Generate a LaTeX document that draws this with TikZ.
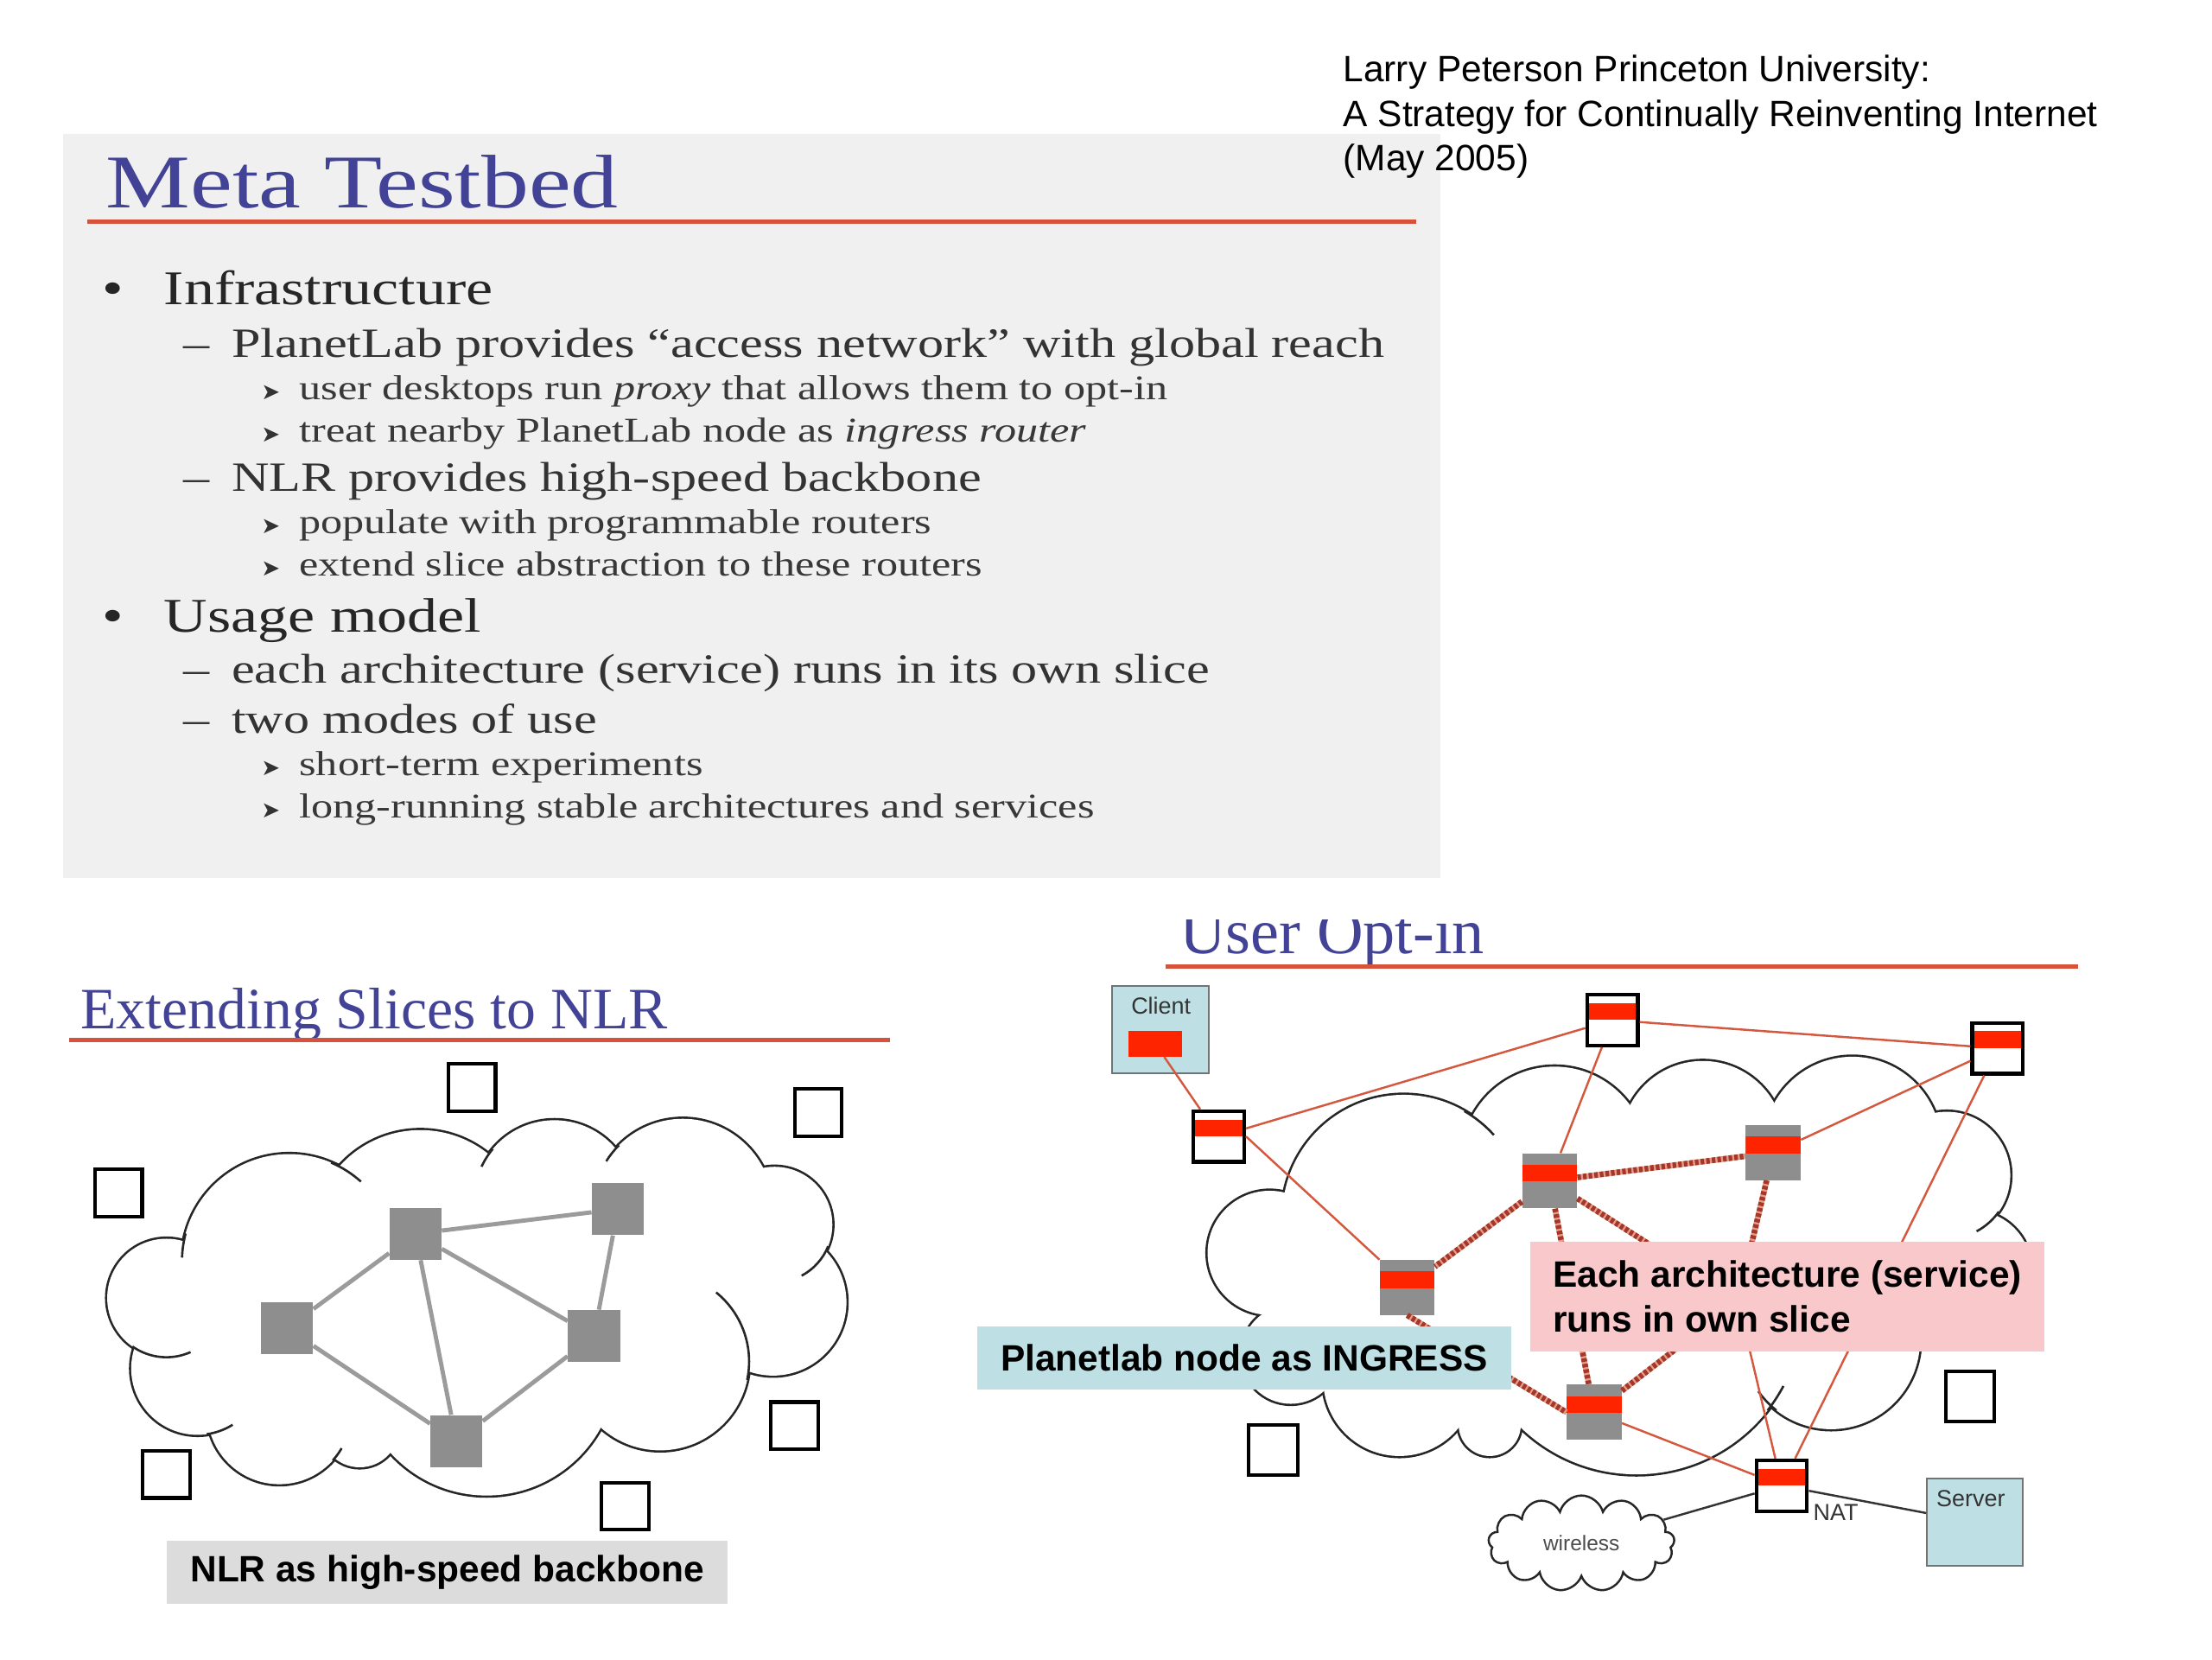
\documentclass[tikz,border=0pt]{standalone}
\usepackage{fontspec}
\setmainfont{Liberation Serif}
\setsansfont{Liberation Sans}
\newfontfamily\slidefont[FakeStretch=1.25]{Liberation Serif}
\newfontfamily\symbfont{DejaVu Sans}
\usetikzlibrary{shapes.symbols}

\definecolor{titleblue}{RGB}{66,66,150}
\definecolor{rulered}{RGB}{214,82,58}
\definecolor{panelgray}{RGB}{240,240,240}
\definecolor{boxgray}{RGB}{142,142,142}
\definecolor{edgegray}{RGB}{155,155,155}
\definecolor{bandred}{RGB}{255,36,0}
\definecolor{linkred}{RGB}{212,88,62}
\definecolor{slicered}{RGB}{165,55,40}
\definecolor{labelcyan}{RGB}{190,224,228}
\definecolor{labelpink}{RGB}{249,200,202}
\definecolor{labelgray}{RGB}{220,220,220}

\newcommand\nlrcloud{118/920/42, 140/970/47, 198/1001/51, 255/1012/28, 345/968/92, 468/965/63, 548/923/52, 549/868/41, 484/857/64, 393/851/57, 298/878/77, 205/894/76}
\newcommand\nlrstubs{468/965/63/-51/12, 549/868/41/22/62, 118/920/42/66/125, 140/970/47/58/82, 205/894/76/182/195, 205/894/76/293/312, 393/851/57/205/220, 484/857/64/212/225, 198/1001/51/30/42}
\newcommand\optcloud{900/888/44, 995/862/86, 1102/822/66, 1207/810/58, 1313/812/63, 1380/833/45, 1398/900/42, 1298/950/63, 1160/927/118, 1056/1010/22, 992/978/54, 915/960/35}
\newcommand\optstubs{995/862/86/300/318, 1380/833/45/35/62, 1298/950/63/128/145, 1160/927/118/28/38}

\begin{document}
\begin{tikzpicture}[x=1pt, y=-1pt,
    every node/.style={inner sep=0pt},
    slidetitle/.style={font=\slidefont\fontsize{53.8}{60}\selectfont, text=titleblue, anchor=base west},
    lvlone/.style={font=\slidefont\fontsize{34.3}{40}\selectfont, text=black!85, anchor=base west},
    lvltwo/.style={font=\slidefont\fontsize{29.5}{34}\selectfont, text=black!80, anchor=base west},
    lvlthree/.style={font=\slidefont\fontsize{24.6}{29}\selectfont, text=black!78, anchor=base west},
    arrowmark/.style={font=\symbfont\fontsize{16}{18}\selectfont, text=black!80, anchor=base west},
    subtitle/.style={font=\fontsize{41.5}{48}\selectfont, text=titleblue, anchor=base west},
    titlerule/.style={draw=rulered, line width=3},
    credit/.style={font=\sffamily\fontsize{26}{31}\selectfont, anchor=base west},
    cloudline/.style={draw=black!85, line width=3.2},
    cloudstub/.style={draw=black!85, line width=1.6},
    emptybox/.style={draw=black, line width=2.5, fill=white, minimum width=33.5, minimum height=33.5},
    nlrnode/.style={fill=boxgray, minimum width=37, minimum height=37},
    backbone/.style={draw=edgegray, line width=3},
    redband/.style={path picture={\fill[bandred] ([yshift=-#1pt]path picture bounding box.north west) rectangle ([yshift=-#1pt-12pt]path picture bounding box.north east);}},
    router/.style={draw=black, line width=2.5, fill=white, minimum width=36, minimum height=36, redband=6},
    slicenode/.style={fill=boxgray, minimum width=39, minimum height=39, redband=8},
    hostbox/.style={draw=black!55, line width=1.2, fill=labelcyan},
    smalltext/.style={font=\sffamily\fontsize{16.5}{19}\selectfont, text=black!80},
    physlink/.style={draw=linkred, line width=1.5},
    slicelink/.style={draw=slicered, line width=4, dash pattern=on 2.5pt off 1.5pt, preaction={draw=linkred!60, line width=4}},
    hostlink/.style={draw=black!80, line width=1.5},
    notelabel/.style={font=\sffamily\bfseries\fontsize{26}{32}\selectfont, align=left}
  ]

\useasboundingbox (0,0) rectangle (1568,1176);

% slide: Meta Testbed
\fill[panelgray] (45,95) rectangle (1021,622);
\node[slidetitle] (metatitle) at (75,147) {Meta Testbed};
\draw[titlerule] (62,157) -- (1004,157);

\node[lvlone, anchor=base] at (80,216) {•};
\node[lvlone] (infra) at (116,216) {Infrastructure};
\node[lvltwo] at (130,253) {–};
\node[lvltwo] (planet) at (164,253) {PlanetLab provides “access network” with global reach};
\node[arrowmark] at (185,283) {➤};
\node[lvlthree] (proxy) at (212,283) {user desktops run \textit{proxy} that allows them to opt-in};
\node[arrowmark] at (185,313) {➤};
\node[lvlthree] (ingress) at (212,313) {treat nearby PlanetLab node as \textit{ingress router}};
\node[lvltwo] at (130,348) {–};
\node[lvltwo] (nlr) at (164,348) {NLR provides high-speed backbone};
\node[arrowmark] at (185,378) {➤};
\node[lvlthree] (populate) at (212,378) {populate with programmable routers};
\node[arrowmark] at (185,408) {➤};
\node[lvlthree] (extend) at (212,408) {extend slice abstraction to these routers};
\node[lvlone, anchor=base] at (80,448) {•};
\node[lvlone] (usage) at (116,448) {Usage model};
\node[lvltwo] at (130,484) {–};
\node[lvltwo] (eacharch) at (164,484) {each architecture (service) runs in its own slice};
\node[lvltwo] at (130,520) {–};
\node[lvltwo] (modes) at (164,520) {two modes of use};
\node[arrowmark] at (185,550) {➤};
\node[lvlthree] (shortterm) at (212,550) {short-term experiments};
\node[arrowmark] at (185,580) {➤};
\node[lvlthree] (longrun) at (212,580) {long-running stable architectures and services};

% credit
\node[credit] (credita) at (952,58) {Larry Peterson Princeton University:};
\node[credit] (creditb) at (952,90) {A Strategy for Continually Reinventing Internet};
\node[credit] (creditc) at (952,121) {(May 2005)};

% slide: Extending Slices to NLR
\node[subtitle] (exttitle) at (57,729) {Extending Slices to NLR};
\draw[titlerule] (49,737) -- (631,737);

\foreach \cx/\cy/\r in \nlrcloud \draw[cloudline] (\cx,\cy) circle[radius=\r];
\fill[white] (118,920) -- (140,970) -- (198,1001) -- (255,1012) -- (345,968) -- (468,965) -- (548,923) -- (549,868) -- (484,857) -- (393,851) -- (298,878) -- (205,894) -- cycle;
\foreach \cx/\cy/\r in \nlrcloud \fill[white] (\cx,\cy) circle[radius=\r];
\foreach \cx/\cy/\r/\a/\b in \nlrstubs \draw[cloudstub] (\cx,\cy) ++(\a:\r) arc[start angle=\a, end angle=\b, radius=\r];

\node[nlrnode] (na) at (294.5,874.5) {};
\node[nlrnode] (nb) at (438,857) {};
\node[nlrnode] (nc) at (203.5,941.5) {};
\node[nlrnode] (nd) at (421,947) {};
\node[nlrnode] (ne) at (323.5,1021.5) {};

\path (na) edge[backbone] (nb)
      (na) edge[backbone] (nc)
      (na) edge[backbone] (ne)
      (na) edge[backbone] (nd)
      (nb) edge[backbone] (nd)
      (nc) edge[backbone] (ne)
      (nd) edge[backbone] (ne);

\node[emptybox] (sa) at (334.5,771) {};
\node[emptybox] (sb) at (580,788.5) {};
\node[emptybox] (sc) at (84,845.5) {};
\node[emptybox] (sd) at (563,1010.5) {};
\node[emptybox] (se) at (118,1045) {};
\node[emptybox] (sf) at (443,1067.5) {};

\node[fill=labelgray, minimum width=398, minimum height=45, font=\sffamily\bfseries\fontsize{26}{30}\selectfont] (nlrnote) at (317,1114.5) {NLR as high-speed backbone};

% slide: User Opt-in
\begin{scope}
  \clip (820,652) rectangle (1100,700);
  \node[subtitle, font=\fontsize{45.5}{50}\selectfont] (opttitle) at (836,676) {User Opt-in};
\end{scope}
\draw[titlerule] (826,685) -- (1473,685);

\foreach \cx/\cy/\r in \optcloud \draw[cloudline] (\cx,\cy) circle[radius=\r];
\fill[white] (900,888) -- (995,862) -- (1102,822) -- (1207,810) -- (1313,812) -- (1380,833) -- (1398,900) -- (1298,950) -- (1160,927) -- (1056,1010) -- (992,978) -- (915,960) -- cycle;
\foreach \cx/\cy/\r in \optcloud \fill[white] (\cx,\cy) circle[radius=\r];
\foreach \cx/\cy/\r/\a/\b in \optstubs \draw[cloudstub] (\cx,\cy) ++(\a:\r) arc[start angle=\a, end angle=\b, radius=\r];

\node[hostbox, minimum width=69, minimum height=62] (client) at (822.5,730) {};
\node[smalltext] (clienttext) at (823,713) {Client};
\node[fill=bandred, minimum width=38, minimum height=18] (clientnic) at (819,740) {};
\node[hostbox, minimum width=68, minimum height=62] (server) at (1400,1079) {};
\node[smalltext] (servertext) at (1397,1062) {Server};

\node[router] (ra) at (864,805.5) {};
\node[router] (rb) at (1143,723) {};
\node[router] (rc) at (1416,743) {};
\node[router] (nat) at (1263,1053) {};
\node[smalltext, anchor=west] (nattext) at ([xshift=3pt]nat.south east) {NAT};

\node[slicenode] (ga) at (1098.5,837) {};
\node[slicenode] (gb) at (1257,817) {};
\node[slicenode] (gc) at (997.5,912.5) {};
\node[slicenode] (gd) at (1130,1001) {};
\coordinate (hidden) at (1232,922);

\node[emptybox, minimum width=34.5, minimum height=35.5] (sg) at (1396.5,990) {};
\node[emptybox, minimum width=34.5, minimum height=35.5] (sh) at (902.5,1027.5) {};

\node[cloud, draw=black!85, line width=1.5, cloud puffs=13, aspect=2.1, minimum width=132, minimum height=68,
      font=\sffamily\fontsize{15}{17}\selectfont, text=black!70] (wireless) at (1121,1094) {wireless};

\path (clientnic) edge[physlink] (ra)
      (ra)        edge[physlink] (rb)
      (rb)        edge[physlink] (rc)
      (ra.east)   edge[physlink] (gc.north west)
      (rb)        edge[physlink] (ga)
      (rc)        edge[physlink] (gb)
      (rc)        edge[physlink] (nat)
      (hidden)    edge[physlink] (nat)
      (gd)        edge[physlink] (nat);

\path (ga)       edge[slicelink] (gb)
      (ga)       edge[slicelink] (gc)
      (ga)       edge[slicelink] (gd)
      (ga)       edge[slicelink] (hidden)
      (gb)       edge[slicelink] (hidden)
      (gd)       edge[slicelink] (hidden)
      (gc.south) edge[slicelink] (gd.west);

\path (wireless) edge[hostlink] (nat)
      (nat)      edge[hostlink] (server);

\node[notelabel, fill=labelcyan, minimum width=378, minimum height=45] (ingressnote) at (882,962.5) {Planetlab node as INGRESS};
\node[notelabel, fill=labelpink, minimum width=364, minimum height=78] (slicenote) at (1267,919) {Each architecture (service)\\runs in own slice};

\end{tikzpicture}
\end{document}
